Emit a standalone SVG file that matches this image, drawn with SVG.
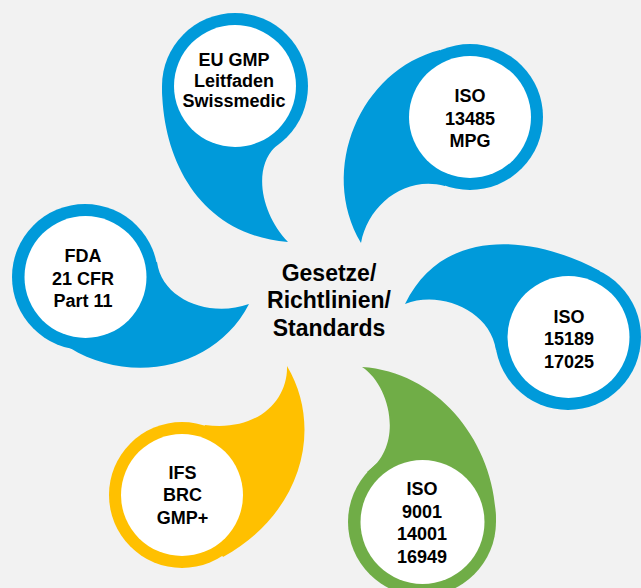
<svg xmlns="http://www.w3.org/2000/svg" width="641" height="588" viewBox="0 0 641 588">
  <style>
    .blue { fill: #009ADA; }
    .yellow { fill: #FFC000; }
    .green { fill: #70AD47; }
    .inner { fill: #FFFFFF; }
    .label { font-family: "Liberation Sans", Arial, sans-serif; font-weight: bold; font-size: 18px; fill: #000000; text-anchor: middle; }
    .center { font-size: 23px; }
  </style>

  <rect x="0" y="0" width="641" height="588" fill="#F2F2F2"/>

  <!-- each drop: outer disc + curved tail, white disc on top -->
  <g id="node-eu-gmp">
    <circle class="blue" cx="235" cy="86" r="73"/>
    <path class="blue" d="M162,86 C162,160 200,235 288,242 C262,215 252,170 275,147 L235,86 Z"/>
    <circle class="inner" cx="235" cy="86" r="61"/>
    <text class="label" x="234" y="66">EU GMP</text>
    <text class="label" x="234" y="86.5">Leitfaden</text>
    <text class="label" x="234" y="107">Swissmedic</text>
  </g>

  <g id="node-iso-13485">
    <circle class="blue" cx="470" cy="117" r="73"/>
    <path class="blue" d="M440,50 C360,70 318,170 361,243 C368,205 405,175 445,186 L470,117 Z"/>
    <circle class="inner" cx="470" cy="117" r="61"/>
    <text class="label" x="470" y="102">ISO</text>
    <text class="label" x="470" y="124.5">13485</text>
    <text class="label" x="470" y="147">MPG</text>
  </g>

  <g id="node-fda">
    <circle class="blue" cx="85" cy="277" r="73"/>
    <path class="blue" d="M157,262 C162,300 210,318 249,304 C215,370 130,385 70,348 L85,277 Z"/>
    <circle class="inner" cx="85.5" cy="277" r="61"/>
    <text class="label" x="83" y="262">FDA</text>
    <text class="label" x="83" y="284.5">21 CFR</text>
    <text class="label" x="83" y="307">Part 11</text>
  </g>

  <g id="node-iso-15189">
    <circle class="blue" cx="568" cy="337" r="73"/>
    <path class="blue" d="M600,271 C540,238 445,222 405,304 C440,290 490,310 496,350 L568,337 Z"/>
    <circle class="inner" cx="568.5" cy="337" r="61"/>
    <text class="label" x="569" y="322.5">ISO</text>
    <text class="label" x="569" y="345">15189</text>
    <text class="label" x="569" y="367.5">17025</text>
  </g>

  <g id="node-ifs">
    <circle class="yellow" cx="182" cy="495" r="73"/>
    <path class="yellow" d="M223,557 C300,515 325,430 287,366 C288,400 258,432 205,425 L182,495 Z"/>
    <circle class="inner" cx="182" cy="495" r="61"/>
    <text class="label" x="182.5" y="479">IFS</text>
    <text class="label" x="182.5" y="501">BRC</text>
    <text class="label" x="182.5" y="523.5">GMP+</text>
  </g>

  <g id="node-iso-9001">
    <circle class="green" cx="422" cy="522" r="74"/>
    <path class="green" d="M367,472 C405,445 390,385 362,367 C440,372 496,445 496,522 L422,522 Z"/>
    <circle class="inner" cx="422.5" cy="522" r="62"/>
    <text class="label" x="422" y="495">ISO</text>
    <text class="label" x="422" y="517.5">9001</text>
    <text class="label" x="422" y="540">14001</text>
    <text class="label" x="422" y="562.5">16949</text>
  </g>

  <g id="node-center">
    <text class="label center" x="329" y="281">Gesetze/</text>
    <text class="label center" x="329" y="308">Richtlinien/</text>
    <text class="label center" x="329" y="336">Standards</text>
  </g>

  <g id="connectors"/>
</svg>
